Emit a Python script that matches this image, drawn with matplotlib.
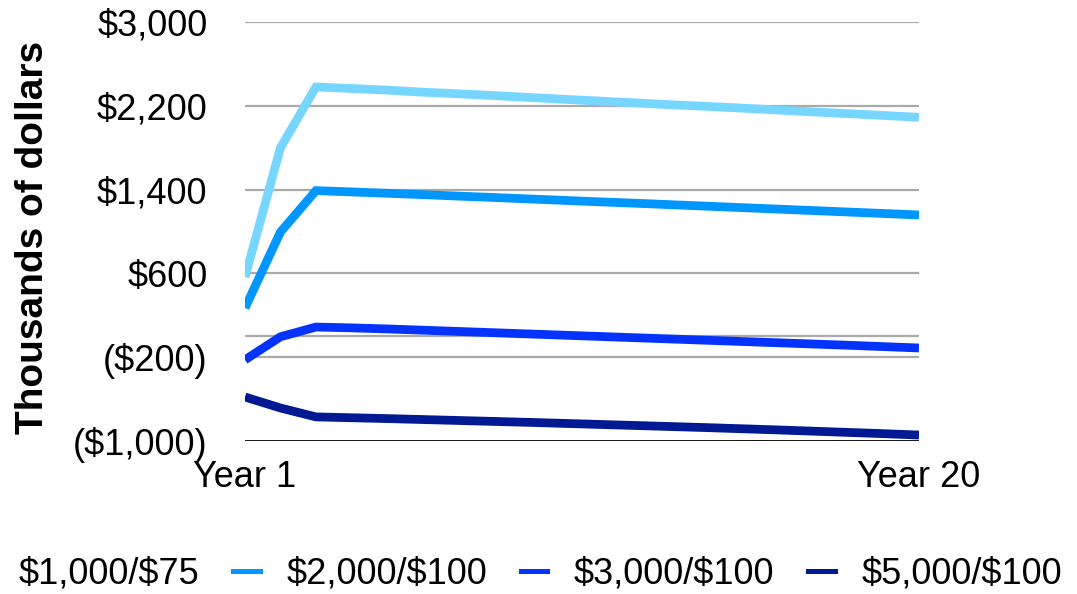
import matplotlib.pyplot as plt
from matplotlib.ticker import FuncFormatter

plt.rcParams['font.family'] = ['Liberation Sans', 'DejaVu Sans']

# Values in thousands of dollars, Year 1 .. Year 20
years = list(range(1, 21))
labels = ["$1,000/$75", "$2,000/$100", "$3,000/$100", "$5,000/$100"]
s1 = [565, 1800, 2380, 2365, 2350, 2330, 2315, 2298, 2280, 2262, 2245, 2228, 2210, 2195, 2178, 2160, 2142, 2125, 2108, 2090]
s2 = [270, 995, 1390, 1378, 1365, 1352, 1338, 1325, 1311, 1297, 1283, 1270, 1256, 1242, 1228, 1214, 1200, 1186, 1172, 1158]
s3 = [-225, -5, 88, 80, 70, 58, 46, 34, 22, 10, -2, -14, -26, -38, -50, -62, -74, -86, -99, -112]
s4 = [-580, -685, -770, -778, -786, -795, -804, -813, -822, -832, -842, -852, -862, -872, -883, -894, -906, -918, -930, -943]
colors = ["#76D6FF", "#0096FF", "#0433FF", "#011993"]
yticks = [-1000, -200, 600, 1400, 2200, 3000]

fig = plt.figure(figsize=(10.77, 5.94), dpi=100)
ax = fig.add_axes([245 / 1077, 1 - 441 / 594, 674 / 1077, 419 / 594])

# gridlines (including an unlabeled one at zero)
for v in yticks[1:] + [0]:
    ax.axhline(v, color="#aaaaaa", lw=1.6, zorder=1)
ax.axhline(-1000, color="black", lw=2.0, zorder=1)

# escape dollar signs so they are not read as mathtext
safe_labels = [s.replace("$", r"\$") for s in labels]

for ys, c, lab in zip([s1, s2, s3, s4], colors, safe_labels):
    ax.plot(years, ys, color=c, lw=6.3, solid_capstyle="butt",
            solid_joinstyle="miter", label=lab, zorder=3)

ax.set_xlim(1, 20)
ax.set_ylim(-1000, 3000)
ax.set_xticks([1, 20])
ax.set_xticklabels(["Year 1", "Year 20"])
ax.set_yticks(yticks)


def money(v, pos):
    if v < 0:
        return "(${:,.0f})".format(-v)
    return "${:,.0f}".format(v)


ax.yaxis.set_major_formatter(FuncFormatter(money))
ax.tick_params(axis="both", length=0, labelsize=26)
ax.tick_params(axis="y", pad=27)
ax.tick_params(axis="x", pad=14)
for s in ax.spines.values():
    s.set_visible(False)

fig.text(33 / 1077, 0.601, "Thousands of dollars", rotation=90, ha="center",
         va="center", fontsize=28, fontweight="bold")

# first legend handle falls just off the left edge, as in the original
leg_handles = [plt.Line2D([], [], color=c, lw=3.6) for c in colors]
fig.legend(leg_handles, safe_labels, loc="center left", bbox_to_anchor=(-35 / 1077, 1 - 574 / 594),
           ncol=4, frameon=False, fontsize=26, handlelength=0.74, handletextpad=0.74,
           columnspacing=0.93, borderpad=0, borderaxespad=0)

fig.savefig("out.png", dpi=100)
